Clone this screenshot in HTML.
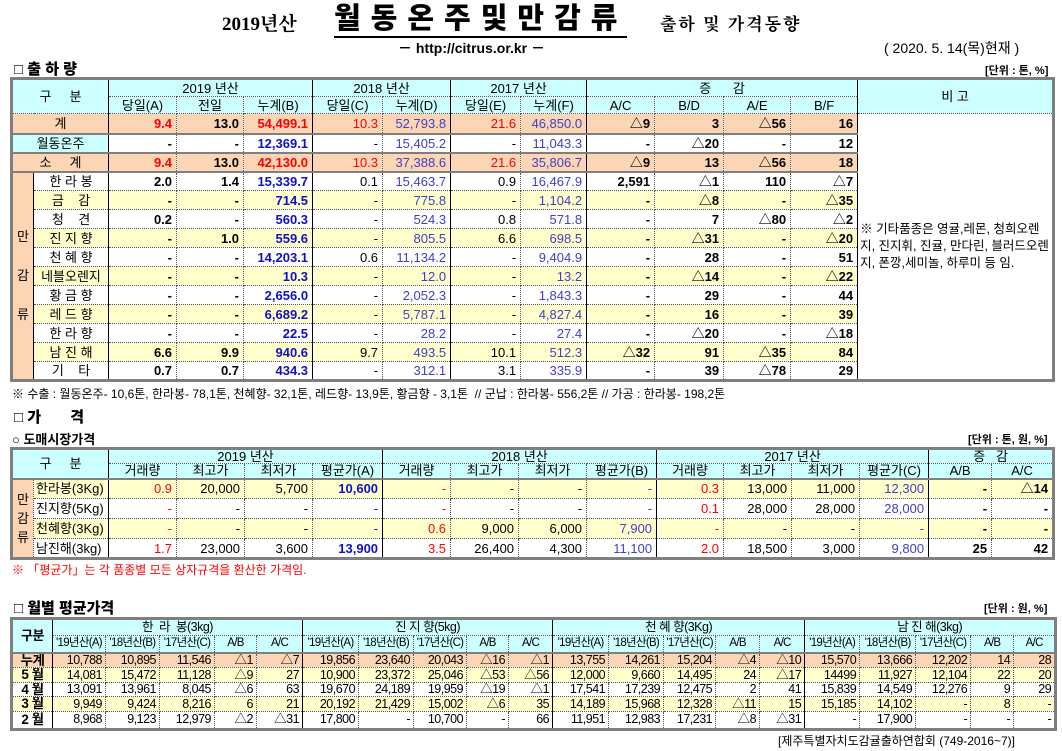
<!DOCTYPE html>
<html><head><meta charset="utf-8">
<style>
body{margin:0;width:1062px;height:751px;background:#fff;position:relative;overflow:hidden;font-family:"Liberation Sans","Noto Sans CJK KR","NanumGothic",sans-serif;color:#000}
.a{position:absolute;white-space:nowrap}
table{position:absolute;border-collapse:collapse;table-layout:fixed;border:3px solid #7f7f7f}
td{padding:0 4px;border:1px dotted #555;overflow:hidden;white-space:nowrap;text-align:right;line-height:1}
td.c{text-align:center;padding:0}
.h{background:#ccffff}
.p{background:#fcd5b4}
.y{background:#ffffcc}
.r{color:#ff0000}
.b{color:#1010c8}
.u{color:#4040c8}
.bd{font-weight:bold}
.sl{border-left:1px solid #000;}
#t1 td{font-size:13px}
#t2 td{font-size:13px}
#t3 td{font-size:12.5px;letter-spacing:-0.5px;padding:0 3px}
#t3 td.sh{font-size:11.5px;letter-spacing:-0.7px;padding:0}
</style></head><body>

<div class="a" style="left:222px;top:9px;font-size:19px;font-family:'Liberation Serif','Noto Serif CJK SC',serif;font-weight:bold">2019년산</div>
<div class="a" style="left:334px;top:2px;font-size:29px;font-weight:900;letter-spacing:10px;border-bottom:2px solid #000;line-height:34px">월동온주및만감류</div>
<div class="a" style="left:660px;top:10px;font-size:17px;font-family:'Liberation Serif','Noto Serif CJK SC',serif;font-weight:bold;letter-spacing:2px">출하 및 가격동향</div>
<div class="a" style="left:398px;top:38px;font-size:14px;font-weight:bold">－ http://citrus.or.kr －</div>
<div class="a" style="left:884px;top:38px;font-size:14px">( 2020. 5. 14(목)현재 )</div>

<div class="a" style="left:14px;top:58px;font-size:15px;font-weight:900">□ 출 하 량</div>
<div class="a" style="left:985px;top:62px;font-size:11px;font-weight:bold">[단위 : 톤, %]</div>

<table id="t1" style="left:10px;top:77px;width:1042px">
<colgroup><col style="width:22px"><col style="width:75px"><col style="width:68px"><col style="width:67px"><col style="width:69px"><col style="width:70px"><col style="width:68px"><col style="width:70px"><col style="width:66px"><col style="width:68px"><col style="width:69px"><col style="width:67px"><col style="width:67px"><col style="width:196px"></colgroup>
<tbody id="t1b">
<tr style="height:18px" class="h"><td class="c" colspan="2" rowspan="2">구&nbsp;&nbsp;&nbsp;&nbsp;&nbsp;분</td><td class="c sl" colspan="3">2019 년산</td><td class="c sl" colspan="2">2018 년산</td><td class="c sl" colspan="2">2017 년산</td><td class="c sl" colspan="4">증&nbsp;&nbsp;&nbsp;&nbsp;&nbsp;&nbsp;감</td><td class="c sl" rowspan="2" style="background:#ccffff">비 고</td></tr>
<tr style="height:17px" class="h"><td class="c sl">당일(A)</td><td class="c">전일</td><td class="c">누계(B)</td><td class="c sl">당일(C)</td><td class="c">누계(D)</td><td class="c sl">당일(E)</td><td class="c">누계(F)</td><td class="c sl">A/C</td><td class="c">B/D</td><td class="c">A/E</td><td class="c">B/F</td></tr>
</tbody></table>

<div class="a" style="left:12px;top:385px;font-size:12px">※ 수출 : 월동온주- 10,6톤, 한라봉- 78,1톤, 천혜향- 32,1톤, 레드향- 13,9톤, 황금향 - 3,1톤&nbsp;&nbsp;// 군납 : 한라봉- 556,2톤 // 가공 : 한라봉- 198,2톤</div>

<div class="a" style="left:14px;top:406px;font-size:15px;font-weight:900">□ 가&nbsp;&nbsp;&nbsp;&nbsp;&nbsp;&nbsp;&nbsp;격</div>
<div class="a" style="left:12px;top:429px;font-size:13px;font-weight:bold">○ 도매시장가격</div>
<div class="a" style="left:968px;top:431px;font-size:11px;font-weight:bold">[단위 : 톤, 원, %]</div>

<table id="t2" style="left:10px;top:447px;width:1042px">
<colgroup><col style="width:22px"><col style="width:75px"><col style="width:68px"><col style="width:68px"><col style="width:68px"><col style="width:70px"><col style="width:68px"><col style="width:68px"><col style="width:68px"><col style="width:70px"><col style="width:67px"><col style="width:68px"><col style="width:68px"><col style="width:69px"><col style="width:63px"><col style="width:62px"></colgroup>
<tbody id="t2b">
<tr style="height:15px" class="h"><td class="c" colspan="2" rowspan="2">구&nbsp;&nbsp;&nbsp;&nbsp;&nbsp;분</td><td class="c sl" colspan="4">2019 년산</td><td class="c sl" colspan="4">2018 년산</td><td class="c sl" colspan="4">2017 년산</td><td class="c sl" colspan="2">증&nbsp;&nbsp;&nbsp;감</td></tr>
<tr style="height:15px" class="h"><td class="c sl">거래량</td><td class="c">최고가</td><td class="c">최저가</td><td class="c">평균가(A)</td><td class="c sl">거래량</td><td class="c">최고가</td><td class="c">최저가</td><td class="c">평균가(B)</td><td class="c sl">거래량</td><td class="c">최고가</td><td class="c">최저가</td><td class="c">평균가(C)</td><td class="c sl">A/B</td><td class="c">A/C</td></tr>
</tbody></table>
<div class="a" style="left:12px;top:561px;font-size:12px;color:#ff0000">※ 「평균가」는 각 품종별 모든 상자규격을 환산한 가격임.</div>

<div class="a" style="left:14px;top:597px;font-size:15px;font-weight:900">□ 월별 평균가격</div>
<div class="a" style="left:984px;top:600px;font-size:11px;font-weight:bold">[단위 : 원, %]</div>

<table id="t3" style="left:10px;top:617px;width:1044px">
<colgroup><col style="width:41px"><col style="width:53px"><col style="width:54px"><col style="width:55px"><col style="width:42px"><col style="width:46px"><col style="width:56px"><col style="width:55px"><col style="width:53px"><col style="width:42px"><col style="width:44px"><col style="width:56px"><col style="width:55px"><col style="width:52px"><col style="width:44px"><col style="width:45px"><col style="width:55px"><col style="width:56px"><col style="width:55px"><col style="width:43px"><col style="width:42px"></colgroup>
<tbody id="t3b"></tbody></table>

<div class="a" style="left:778px;top:732px;font-size:12px">[제주특별자치도감귤출하연합회 (749-2016~7)]</div>

<script>
// ---------- Table 1 data ----------
const t1Labels=["계","월동온주","소&nbsp;&nbsp;&nbsp;&nbsp;&nbsp;계","한 라 봉","금&nbsp;&nbsp;&nbsp;&nbsp;감","청&nbsp;&nbsp;&nbsp;&nbsp;견","진 지 향","천 혜 향","네블오렌지","황 금 향","레 드 향","한 라 향","남 진 해","기&nbsp;&nbsp;&nbsp;&nbsp;타"];
const t1A=["9.4","-","9.4","2.0","-","0.2","-","-","-","-","-","-","6.6","0.7"];
const t1Prev=["13.0","-","13.0","1.4","-","-","1.0","-","-","-","-","-","9.9","0.7"];
const t1B=["54,499.1","12,369.1","42,130.0","15,339.7","714.5","560.3","559.6","14,203.1","10.3","2,656.0","6,689.2","22.5","940.6","434.3"];
const t1C=["10.3","-","10.3","0.1","-","-","-","0.6","-","-","-","-","9.7","-"];
const t1D=["52,793.8","15,405.2","37,388.6","15,463.7","775.8","524.3","805.5","11,134.2","12.0","2,052.3","5,787.1","28.2","493.5","312.1"];
const t1E=["21.6","-","21.6","0.9","-","0.8","6.6","-","-","-","-","-","10.1","3.1"];
const t1F=["46,850.0","11,043.3","35,806.7","16,467.9","1,104.2","571.8","698.5","9,404.9","13.2","1,843.3","4,827.4","27.4","512.3","335.9"];
const t1AC=["△9","-","△9","2,591","-","-","-","-","-","-","-","-","△32","-"];
const t1BD=["3","△20","13","△1","△8","7","△31","28","△14","29","16","△20","91","39"];
const t1AE=["△56","-","△56","110","-","△80","-","-","-","-","-","-","△35","△78"];
const t1BF=["16","12","18","△7","△35","△2","△20","51","△22","44","39","△18","84","29"];
const t1Note="※ 기타품종은 영귤,레몬, 청희오렌지, 진지휘, 진귤, 만다린, 블러드오렌지, 폰깡,세미놀, 하루미 등 임.";

// ---------- Table 2 data ----------
const t2Labels=["한라봉(3Kg)","진지향(5Kg)","천혜향(3Kg)","남진해(3kg)"];
const t2y19Vol=["0.9","-","-","1.7"],t2y19Hi=["20,000","-","-","23,000"],t2y19Lo=["5,700","-","-","3,600"],t2y19Avg=["10,600","-","-","13,900"];
const t2y18Vol=["-","-","0.6","3.5"],t2y18Hi=["-","-","9,000","26,400"],t2y18Lo=["-","-","6,000","4,300"],t2y18Avg=["-","-","7,900","11,100"];
const t2y17Vol=["0.3","0.1","-","2.0"],t2y17Hi=["13,000","28,000","-","18,500"],t2y17Lo=["11,000","28,000","-","3,000"],t2y17Avg=["12,300","28,000","-","9,800"];
const t2AB=["-","-","-","25"],t2AC=["△14","-","-","42"];

// ---------- Table 3 data ----------
const t3Groups=["한&nbsp;&nbsp;라&nbsp;&nbsp;봉(3kg)","진 지 향(5kg)","천 혜 향(3Kg)","남 진 해(3kg)"];
const t3Sub=["'19년산(A)","'18년산(B)","'17년산(C)","A/B","A/C"];
const t3Rows=["누계","5 월","4 월","3 월","2 월"];
const t3Hallabong=[["10,788","10,895","11,546","△1","△7"],["14,081","15,472","11,128","△9","27"],["13,091","13,961","8,045","△6","63"],["9,949","9,424","8,216","6","21"],["8,968","9,123","12,979","△2","△31"]];
const t3Jinji=[["19,856","23,640","20,043","△16","△1"],["10,900","23,372","25,046","△53","△56"],["19,670","24,189","19,959","△19","△1"],["20,192","21,429","15,002","△6","35"],["17,800","-","10,700","-","66"]];
const t3Cheonhye=[["13,755","14,261","15,204","△4","△10"],["12,000","9,660","14,495","24","△17"],["17,541","17,239","12,475","2","41"],["14,189","15,968","12,328","△11","15"],["11,951","12,983","17,231","△8","△31"]];
const t3Namjin=[["15,570","13,666","12,202","14","28"],["14499","11,927","12,104","22","20"],["15,839","14,549","12,276","9","29"],["15,185","14,102","-","8","-"],["-","17,900","-","-","-"]];

function td(tr,html,cls,name){
  const c=document.createElement('td');
  c.innerHTML=html;
  if(cls)c.className=cls;
  
  
  tr.appendChild(c);return c;
}

// Build table 1
const b1=document.getElementById('t1b');
for(let i=0;i<t1Labels.length;i++){
  const tr=document.createElement('tr');
  
  
  const rowCls=(i===0||i===2)?'p':(i>=4&&i%2===0?'y':'');
  tr.style.height=(i===0?20:19)+'px';
  if(i===1||i===2||i===3)tr.style.borderTop='2px solid #7f7f7f';
  if(i===3){const v=td(tr,'만<br><br><br>감<br><br><br>류','c p','citrus-group-label');v.rowSpan=11;v.style.borderRight='1px solid #000';}
  if(i<3){const l=td(tr,t1Labels[i],'c '+(i===1?'h':rowCls),'row-label');l.colSpan=2;}
  else td(tr,t1Labels[i],'c '+rowCls,'row-label');
  const big=(i===0||i===2);
  td(tr,t1A[i],rowCls+' bd sl'+(big?' r':''),'value-a');
  td(tr,t1Prev[i],rowCls+' bd','value-prev');
  td(tr,t1B[i],rowCls+' bd '+(big?'r':'b'),'value-b');
  td(tr,t1C[i],rowCls+' sl'+(big?' r':''),'value-c');
  td(tr,t1D[i],rowCls+' u','value-d');
  td(tr,t1E[i],rowCls+' sl'+(big?' r':''),'value-e');
  td(tr,t1F[i],rowCls+' u','value-f');
  td(tr,t1AC[i],rowCls+' bd sl','value-ac');
  td(tr,t1BD[i],rowCls+' bd','value-bd');
  td(tr,t1AE[i],rowCls+' bd','value-ae');
  td(tr,t1BF[i],rowCls+' bd','value-bf');
  if(i===0){const n=td(tr,t1Note,'sl','remarks-note');n.rowSpan=14;n.style.whiteSpace='normal';n.style.textAlign='left';n.style.fontSize='12.5px';n.style.lineHeight='17px';n.style.padding='0 2px';n.style.borderLeft='1px solid #000';}
  b1.appendChild(tr);
}

// Build table 2
const b2=document.getElementById('t2b');
for(let i=0;i<t2Labels.length;i++){
  const tr=document.createElement('tr');
  
  
  tr.style.height='20px';
  const rc=(i%2===0)?'y':'';
  if(i===0){tr.style.borderTop='2px solid #7f7f7f';const v=td(tr,'만<br>감<br>류','c p','citrus-group-label');v.rowSpan=4;v.style.lineHeight='19px';}
  const l=td(tr,t2Labels[i],rc,'row-label');l.style.textAlign='left';l.style.paddingLeft='2px';
  td(tr,t2y19Vol[i],rc+' r sl','volume-2019');td(tr,t2y19Hi[i],rc,'high-2019');td(tr,t2y19Lo[i],rc,'low-2019');td(tr,t2y19Avg[i],rc+' b'+(i===0||i===3?' bd':''),'avg-2019');
  td(tr,t2y18Vol[i],rc+' r sl','volume-2018');td(tr,t2y18Hi[i],rc,'high-2018');td(tr,t2y18Lo[i],rc,'low-2018');td(tr,t2y18Avg[i],rc+' u','avg-2018');
  td(tr,t2y17Vol[i],rc+' r sl','volume-2017');td(tr,t2y17Hi[i],rc,'high-2017');td(tr,t2y17Lo[i],rc,'low-2017');td(tr,t2y17Avg[i],rc+' u','avg-2017');
  td(tr,t2AB[i],rc+' sl bd','change-ab');td(tr,t2AC[i],rc+' bd','change-ac');
  b2.appendChild(tr);
}

// Build table 3
const b3=document.getElementById('t3b');
const h1=document.createElement('tr');


h1.style.height='17px';h1.className='h';
const g0=td(h1,'구분','c h bd','category-header');g0.rowSpan=2;g0.style.fontSize='13px';
t3Groups.forEach(g=>{const c=td(h1,g,'c sl','variety-header');c.colSpan=5;});
b3.appendChild(h1);
const h2=document.createElement('tr');


h2.style.height='17px';h2.className='h';
for(let g=0;g<4;g++)t3Sub.forEach((s,k)=>td(h2,s,'c sh'+(k===0?' sl':''),'column-header'));
b3.appendChild(h2);
const groups=[t3Hallabong,t3Jinji,t3Cheonhye,t3Namjin];
for(let r=0;r<t3Rows.length;r++){
  const tr=document.createElement('tr');
  
  
  tr.style.height=(r===0?15:(r===4?18:14))+'px';
  if(r===0)tr.style.borderTop='2px solid #7f7f7f';
  const rc=r===0?'p':(r%2===1?'y':'');
  const l=td(tr,t3Rows[r],'c bd '+rc,'month-label');l.style.fontSize='13.5px';l.style.borderRight='1px solid #000';
  groups.forEach(gr=>gr[r].forEach((v,k)=>td(tr,v,rc+(k===0?' sl':''),'monthly-value')));
  b3.appendChild(tr);
}
</script>
</body></html>
